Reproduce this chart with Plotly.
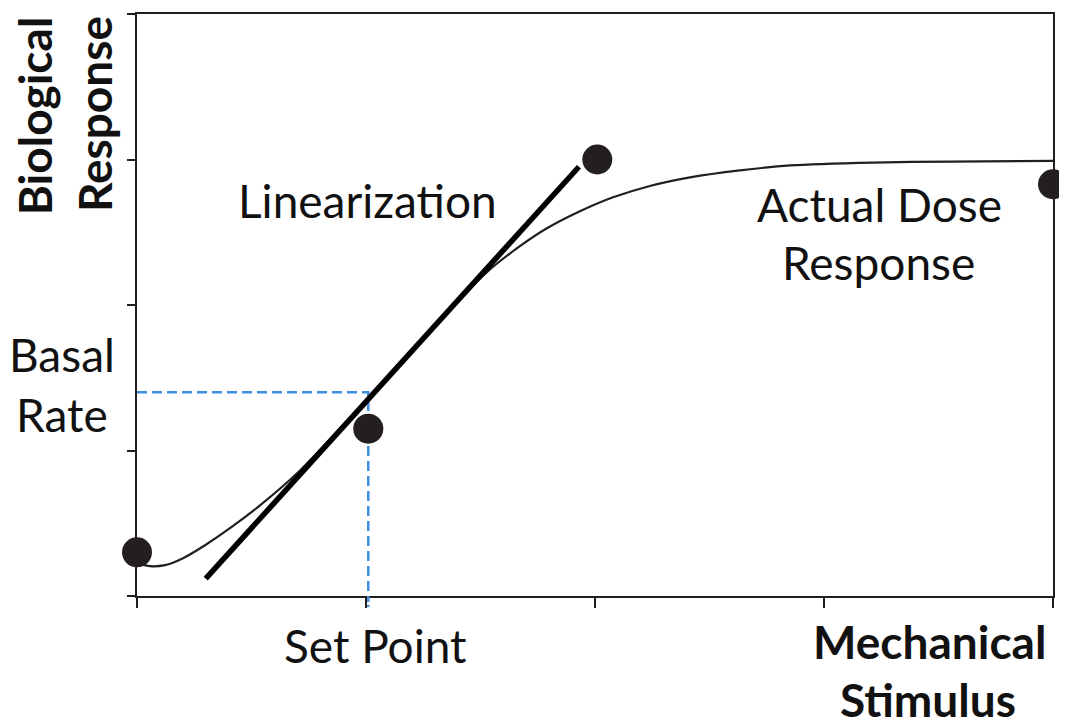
import plotly.graph_objects as go

# ---- data ----
CURVE_X = [0.0, 0.057, 0.122, 0.201, 0.297, 0.406, 0.537, 0.712, 0.886, 1.061, 1.236, 1.410,
           1.528, 1.672, 1.790, 1.934, 2.079, 2.240, 2.415, 2.633, 2.852, 3.214, 3.550, 4.0]
CURVE_Y = [0.226, 0.205, 0.212, 0.260, 0.349, 0.466, 0.623, 0.863, 1.151, 1.445, 1.747, 2.041,
           2.226, 2.404, 2.527, 2.644, 2.740, 2.818, 2.877, 2.925, 2.959, 2.979, 2.986, 2.990]

LIN_X = [0.30, 1.93]
LIN_Y = [0.12, 2.95]

DOT_X = [0.0, 1.01, 2.01, 4.0]
DOT_Y = [0.30, 1.15, 3.00, 2.83]

SET_POINT = 1.01
BASAL_RATE = 1.40

X_RANGE = [0, 4]
Y_RANGE = [0, 4]

FONT = "Lato"
FS = 46
INK = "#231f20"
BLUE = "#3f8fe0"

fig = go.Figure()

# dashed guides (basal rate / set point)
fig.add_trace(go.Scatter(
    x=[X_RANGE[0], SET_POINT, SET_POINT], y=[BASAL_RATE, BASAL_RATE, Y_RANGE[0]],
    mode="lines", line=dict(color=BLUE, width=2.5, dash="10px,5px"),
    hoverinfo="skip", showlegend=False))

# actual dose response curve
fig.add_trace(go.Scatter(
    x=CURVE_X, y=CURVE_Y, mode="lines",
    line=dict(color=INK, width=2.2, shape="spline", smoothing=0.6),
    showlegend=False))

# linearization
fig.add_trace(go.Scatter(
    x=LIN_X, y=LIN_Y, mode="lines",
    line=dict(color="#000000", width=5.5),
    showlegend=False))

# points
fig.add_trace(go.Scatter(
    x=DOT_X, y=DOT_Y, mode="markers",
    marker=dict(color=INK, size=30, line=dict(width=0)),
    cliponaxis=False, showlegend=False))

# stub of the set-point guide below the axis
fig.add_shape(type="line", xref="x", yref="y domain",
              x0=SET_POINT, x1=SET_POINT, y0=0, y1=-0.019,
              line=dict(color=BLUE, width=2.5, dash="6px,3px"), layer="above")

def label(text, x, y, bold=False, angle=0):
    fig.add_annotation(
        text=f"<b>{text}</b>" if bold else text,
        x=x, y=y, xref="paper", yref="paper", showarrow=False,
        textangle=angle, xanchor="center", yanchor="middle",
        font=dict(family=FONT, size=FS, color="#111111"))

label("Linearization", 0.2511, 0.6803)
label("Actual Dose", 0.8111, 0.6733)
label("Response", 0.8100, 0.5733)
label("Basal", -0.0819, 0.4144)
label("Rate", -0.0819, 0.3116)
label("Set Point", 0.2607, -0.0856)
label("Mechanical", 0.8648, -0.0788, bold=True)
label("Stimulus", 0.8639, -0.1772, bold=True)
label("Biological", -0.1118, 0.8253, bold=True, angle=-90)
label("Response", -0.0470, 0.8279, bold=True, angle=-90)

axis_common = dict(
    showgrid=False, zeroline=False, showticklabels=False,
    showline=True, linecolor=INK, linewidth=2, mirror=True,
    ticks="outside", tickcolor=INK, tickwidth=2,
    tick0=0, dtick=1, fixedrange=True,
)
fig.update_xaxes(range=X_RANGE, ticklen=10, **axis_common)
fig.update_yaxes(range=Y_RANGE, ticklen=8, **axis_common)

# page body has an 8px margin, so the figure is 8px smaller and margins shifted
fig.update_layout(
    width=1059, height=718, autosize=False,
    margin=dict(l=129, r=14, t=4, b=130),
    plot_bgcolor="white", paper_bgcolor="white",
    showlegend=False,
)

fig.write_html("out.html")
